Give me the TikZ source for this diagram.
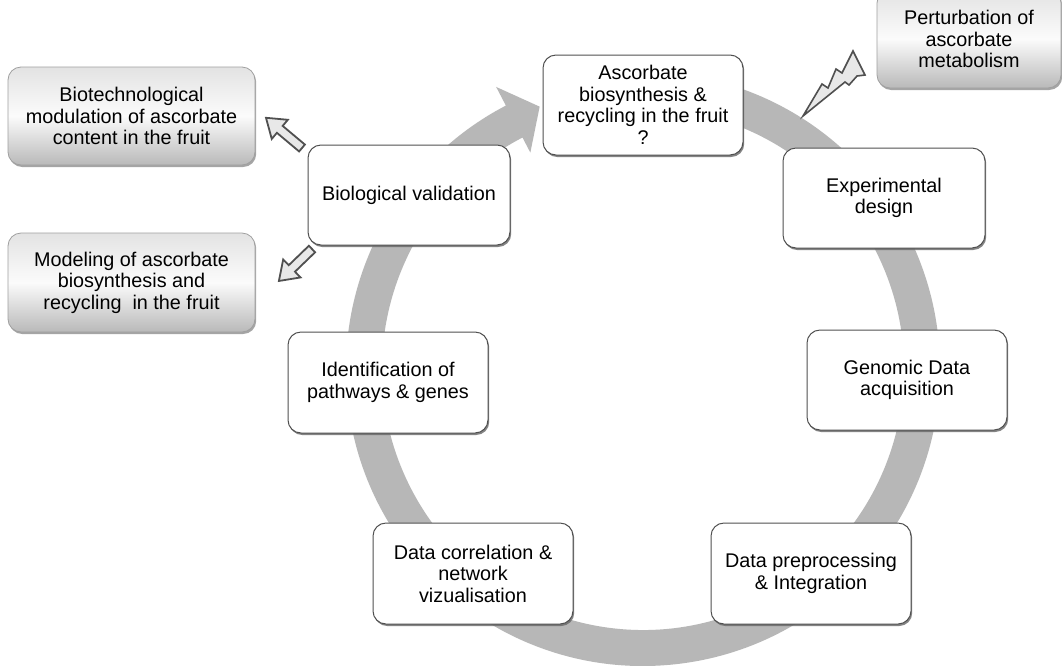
\documentclass[tikz,border=0pt]{standalone}
\usepackage{fontspec}
\setmainfont{Liberation Sans}
\usetikzlibrary{shadows,calc}
\definecolor{ringgray}{RGB}{183,183,183}
\definecolor{edgegray}{RGB}{80,80,80}
\begin{document}
\begin{tikzpicture}[x=1pt,y=1pt,
  txt/.style={align=center, font=\fontsize{19.8}{21.5}\selectfont, inner sep=2pt},
  stepbox/.style={txt, draw=edgegray, line width=1pt, fill=white, rounded corners=13pt,
    minimum width=200pt, minimum height=100pt,
    drop shadow={shadow xshift=1.2pt, shadow yshift=-2pt, fill=black!60, opacity=0.8}},
  outbox/.style={txt, draw=gray!75, line width=0.8pt, rounded corners=13pt,
    top color=gray!22, bottom color=gray!55, middle color=white!97!gray,
    minimum width=247pt, minimum height=98pt,
    drop shadow={shadow xshift=1.2pt, shadow yshift=-2pt, fill=black!50, opacity=0.7}},
  blockarrow/.style={draw=edgegray, fill=gray!18, line width=1.8pt, line join=miter},
  ]
\useasboundingbox (0,0) rectangle (1062,-665);
\fill[white] (0,0) rectangle (1062,-665);

% circular arrow
\coordinate (C) at (643,-369);
\fill[ringgray] ($(C)+(95:297)$) arc[start angle=95, end angle=-242.5, radius=297]
  -- ($(C)+(117.5:318)$) -- ($(C)+(111.5:282)$) -- ($(C)+(117.5:244)$)
  -- ($(C)+(117.5:261)$) arc[start angle=-242.5, end angle=95, radius=261] -- cycle;

% cycle steps
\node[stepbox] (asc) at (643,-105) {Ascorbate\\biosynthesis \&\\recycling in the fruit\\?};
\node[stepbox, minimum width=202pt] (bio) at (409,-195) {Biological validation};
\node[stepbox, minimum width=202pt] (exp) at (884,-198) {Experimental\\design};
\node[stepbox] (gen) at (907,-380) {Genomic Data\\acquisition};
\node[stepbox, minimum height=101pt] (pre) at (811,-573.5) {Data preprocessing\\\& Integration};
\node[stepbox, minimum height=101pt] (cor) at (473,-573.5) {Data correlation \&\\network\\vizualisation};
\node[stepbox, minimum height=101pt] (ide) at (388,-382.5) {Identification of\\pathways \& genes};

% outcome boxes
\node[outbox] (biotech) at (131.5,-116) {Biotechnological\\modulation of ascorbate\\content in the fruit};
\node[outbox, minimum height=99pt] (model) at (131.5,-282.5) {Modeling of ascorbate\\biosynthesis and\\recycling\ \ in the fruit};
\node[outbox, minimum width=184pt] (pert) at (969,-39) {Perturbation of\\ascorbate\\metabolism};

% block arrows
\draw[blockarrow, shift={(302,-148)}, rotate=140]
  (0,-4.5) -- (29,-4.5) -- (29,-12.5) -- (47,0) -- (29,12.5) -- (29,4.5) -- (0,4.5) -- cycle;
\draw[blockarrow, shift={(312,-249)}, rotate=224]
  (0,-4.5) -- (28,-4.5) -- (28,-12.5) -- (46,0) -- (28,12.5) -- (28,4.5) -- (0,4.5) -- cycle;

% lightning bolt
\draw[blockarrow, line width=1.6pt]
  (803,-116) -- (822,-84) -- (828,-88) -- (836,-69) -- (842,-73) -- (853,-51)
  -- (865,-75) -- (857,-76) -- (849,-85) -- (845,-82) -- cycle;
\end{tikzpicture}
\end{document}
